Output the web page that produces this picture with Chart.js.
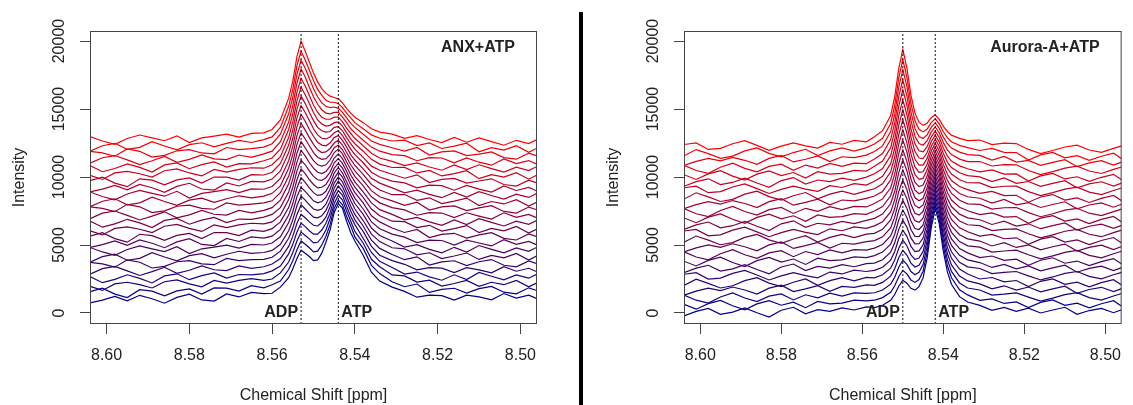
<!DOCTYPE html>
<html>
<head>
<meta charset="utf-8">
<title>ADP / ATP spectra</title>
<script src="https://cdn.jsdelivr.net/npm/chart.js@4.4.1/dist/chart.umd.min.js"></script>
<style>
  html, body { margin: 0; padding: 0; background: #fff; }
  #wrap { position: relative; width: 1133px; height: 405px; overflow: hidden; }
  #anx { position: absolute; left: 0; top: 0; }
  #aurora { position: absolute; left: 594px; top: 0; }
  #divider { position: absolute; left: 579px; top: 12px; width: 4px; height: 393px; background: #000; }
</style>
</head>
<body>
<div id="wrap">
  <canvas id="anx" width="570" height="405"></canvas>
  <div id="divider"></div>
  <canvas id="aurora" width="539" height="405"></canvas>
</div>
<script>
// Chemical shift grid (ppm) for each panel
const anxShift = [8.604, 8.601, 8.598, 8.595, 8.592, 8.589, 8.586, 8.583, 8.580, 8.577, 8.574, 8.571, 8.568, 8.565,
  8.562, 8.560, 8.558, 8.556, 8.555, 8.554, 8.553, 8.552, 8.551, 8.550, 8.549, 8.548, 8.547, 8.546, 8.545, 8.544,
  8.543, 8.542, 8.541, 8.540, 8.538, 8.536, 8.534, 8.531,
  8.528, 8.525, 8.522, 8.519, 8.516, 8.513, 8.510, 8.507, 8.504, 8.501, 8.498, 8.496];
const auroraShift = [8.604, 8.601, 8.598, 8.595, 8.592, 8.589, 8.586, 8.583, 8.580, 8.577, 8.574, 8.571, 8.568, 8.565, 8.562, 8.559,
  8.557, 8.555, 8.553, 8.552, 8.551, 8.550, 8.549, 8.548, 8.547, 8.546, 8.545, 8.544, 8.543, 8.542,
  8.541, 8.540, 8.539, 8.538, 8.536, 8.534,
  8.531, 8.528, 8.525, 8.522, 8.519, 8.516, 8.513, 8.510, 8.507, 8.504, 8.501, 8.498, 8.496];

// Intensities, one row per spectrum, first row = bottom (blue), last row = top (red)
const anxIntensity = [
  [750,950,1220,900,1300,1050,720,1150,1380,960,880,1400,1180,1520, 1420,1450,1900,2600,3250,4000,4620,4400,4150,3850,3900,4400,5200,6100,7400,8050,7700,6750,5900,5300,4250,3000,2350,1900, 1590,1160,1320,1280,950,1310,1190,970,1430,1090,1310,1050],
  [1570,1830,1390,1130,1710,1610,1260,1630,1770,1390,1840,1830,1610,2010, 1850,2080,2350,3200,3850,4650,5300,5050,4800,4500,4550,5000,5650,6500,7700,8300,7950,7100,6400,5600,4750,3500,2900,2300, 1930,2130,1510,1730,1820,1470,1790,1950,1530,1410,1850,1650],
  [1960,1660,2140,2260,2080,1840,2300,2440,2140,1920,2400,2200,2400,2520, 2400,2500,2950,3750,4450,5300,5950,5700,5450,5150,5200,5550,6100,6950,8050,8650,8300,7500,6750,6000,5150,3950,3400,2800, 2730,2270,2410,1980,2170,2390,1960,2260,2080,2400,1920,2220],
  [2680,2230,2470,2810,2550,2210,2730,2880,2450,2750,2950,2570,2830,2810, 2900,3100,3450,4350,5050,5950,6600,6350,6050,5800,5800,6100,6600,7350,8450,9000,8650,7850,7100,6500,5500,4450,3800,3350, 2860,3010,2660,2410,2810,2460,2980,2700,2440,2800,2560,2860],
  [2860,3260,3420,3100,2760,3040,3360,2920,3140,3460,3180,3120,3460,3280, 3400,3600,4000,4900,5650,6600,7250,7000,6700,6450,6400,6650,7050,7800,8800,9350,8950,8250,7500,6850,6000,4900,4250,3850, 3580,3170,3340,3300,2970,3330,3170,2950,3410,3070,3290,3030],
  [3730,3610,3370,3910,3730,3310,3430,3770,3850,3610,3550,4010,3850,3930, 3950,4100,4550,5500,6250,7250,7950,7650,7350,7050,7000,7150,7550,8200,9200,9700,9300,8600,7850,7250,6400,5350,4750,4300, 3920,4130,3530,3760,3840,3490,3770,3930,3510,3390,3830,3630],
  [3740,4140,4320,3880,4020,4440,4120,3840,4220,4360,4060,4320,4540,4380, 4450,4600,5050,6050,6850,7900,8600,8300,7950,7650,7550,7650,8000,8650,9550,10000,9650,8950,8250,7650,6800,5800,5250,4800, 4720,4280,4430,4000,4190,4410,3940,4240,4060,4380,3900,4200],
  [4820,4490,4240,4670,4930,4720,4510,4870,4370,4720,4850,4990,4770,5050, 5000,5150,5600,6650,7450,8550,9250,8950,8600,8250,8100,8200,8500,9100,9900,10350,10000,9300,8650,8050,7250,6250,5700,5300, 4850,5020,4680,4430,4830,4480,4960,4680,4420,4780,4540,4840],
  [4830,5030,5300,4980,5380,5130,4800,5230,5460,5040,4960,5480,5260,5600, 5500,5650,6150,7200,8050,9200,9950,9600,9200,8850,8650,8700,8950,9500,10300,10700,10300,9650,9000,8450,7650,6700,6200,5800, 5580,5180,5360,5330,4990,5350,5150,4930,5390,5050,5270,5010],
  [5650,5910,5470,5210,5790,5690,5340,5710,5850,5470,5920,5910,5690,6090, 6000,6200,6700,7750,8650,9800,10600,10250,9800,9450,9200,9250,9450,9950,10650,11000,10650,10050,9400,8850,8100,7150,6700,6250, 5920,6140,5550,5780,5860,5510,5750,5910,5490,5370,5810,5610],
  [6040,5740,6220,6340,6160,5920,6380,6520,6220,6000,6480,6280,6480,6600, 6550,6700,7200,8350,9250,10450,11250,10900,10450,10050,9800,9750,9950,10350,11050,11350,11000,10400,9750,9250,8500,7650,7150,6750, 6720,6280,6450,6030,6210,6430,5920,6220,6040,6360,5880,6180],
  [6760,6310,6550,6890,6630,6290,6810,6960,6530,6830,7030,6650,6910,6890, 7050,7250,7750,8900,9850,11100,11950,11550,11050,10650,10350,10250,10400,10800,11400,11700,11350,10750,10150,9650,8900,8100,7600,7250, 6850,7030,6700,6450,6850,6500,6940,6660,6400,6760,6520,6820],
  [6940,7340,7500,7180,6840,7120,7440,7000,7220,7540,7260,7200,7540,7360, 7550,7750,8300,9500,10450,11750,12600,12150,11650,11200,10900,10800,10900,11250,11800,12050,11700,11100,10550,10050,9350,8550,8100,7750, 7580,7190,7380,7350,7010,7370,7130,6910,7370,7030,7250,6990],
  [7810,7690,7450,7990,7810,7390,7510,7850,7930,7690,7630,8090,7930,8010, 8100,8250,8850,10050,11050,12400,13250,12800,12300,11800,11450,11300,11350,11650,12150,12350,12000,11450,10900,10450,9750,9000,8550,8250, 7920,8150,7570,7810,7880,7530,7730,7890,7470,7350,7790,7590],
  [7820,8220,8400,7960,8100,8520,8200,7920,8300,8440,8140,8400,8620,8460, 8600,8800,9350,10650,11650,13050,13950,13450,12900,12400,12000,11800,11850,12100,12500,12700,12350,11800,11300,10850,10200,9450,9050,8700, 8710,8290,8470,8050,8230,8450,7900,8200,8020,8340,7860,8160],
  [8900,8570,8320,8750,9010,8800,8590,8950,8450,8800,8930,9070,8850,9130, 9100,9300,9900,11200,12250,13700,14600,14100,13500,13000,12550,12350,12300,12500,12900,13050,12700,12200,11650,11250,10600,9900,9550,9200, 8840,9030,8720,8480,8870,8520,8920,8640,8380,8740,8500,8800],
  [8910,9110,9380,9060,9460,9210,8880,9310,9540,9120,9040,9560,9340,9680, 9650,9850,10450,11800,12850,14350,15250,14750,14150,13550,13100,12850,12800,12950,13250,13400,13050,12550,12050,11650,11050,10350,10000,9700, 9570,9200,9400,9370,9030,9390,9110,8890,9350,9010,9230,8970],
  [9730,9990,9550,9290,9870,9770,9420,9790,9930,9550,10000,9990,9770,10170, 10150,10350,11000,12350,13450,15000,15950,15400,14750,14150,13650,13400,13300,13350,13650,13700,13400,12900,12450,12050,11450,10800,10500,10200, 9910,10160,9590,9830,9900,9550,9710,9870,9450,9330,9770,9570],
  [10120,9820,10300,10420,10240,10000,10460,10600,10300,10080,10560,10360,10560,10680, 10650,10900,11500,12900,14050,15600,16600,16050,15400,14750,14200,13900,13750,13800,14000,14050,13750,13250,12800,12450,11900,11300,10950,10700, 10710,10300,10490,10080,10250,10470,9880,10180,10000,10320,9840,10140],
  [10840,10390,10630,10970,10710,10370,10890,11040,10610,10910,11110,10730,10990,10970, 11200,11400,12050,13500,14650,16250,17250,16700,16000,15300,14750,14400,14250,14250,14400,14400,14050,13600,13200,12850,12300,11750,11400,11150, 10840,11040,10740,10500,10890,10540,10900,10620,10360,10720,10480,10780],
  [11020,11420,11580,11260,10920,11200,11520,11080,11300,11620,11340,11280,11620,11440, 11700,11900,12600,14050,15250,16900,17950,17350,16600,15900,15350,14950,14700,14650,14750,14750,14400,14000,13550,13250,12700,12200,11900,11650, 11570,11200,11420,11400,11050,11410,11090,10870,11330,10990,11210,10950],
  [11890,11770,11530,12070,11890,11470,11590,11930,12010,11770,11710,12170,12010,12090, 12200,12450,13150,14650,15850,17550,18600,18000,17250,16500,15900,15450,15200,15100,15150,15050,14750,14350,13950,13650,13150,12650,12400,12150, 11910,12170,11610,11850,11920,11570,11690,11850,11430,11310,11750,11550],
  [11900,12300,12480,12040,12180,12600,12280,12000,12380,12520,12220,12480,12700,12540, 12750,12950,13650,15200,16450,18200,19250,18600,17850,17100,16450,16000,15650,15500,15500,15400,15100,14700,14350,14000,13550,13100,12850,12650, 12710,12310,12510,12100,12270,12490,11860,12160,11980,12300,11820,12120],
  [12980,12650,12400,12830,13090,12880,12670,13030,12530,12880,13010,13150,12930,13210, 13250,13500,14200,15800,17050,18850,20000,19250,18450,17650,17000,16500,16150,15950,15850,15750,15450,15050,14700,14400,14000,13550,13300,13150, 12840,13050,12760,12530,12910,12560,12880,12600,12340,12700,12460,12760]
];

const auroraIntensity = [
  [-220,120,330,-100,60,380,20,-300,200,420,-60,240,120,380,220,450, 390,570,930,1360,1970,2400,2190,1810,1680,1940,2580,4030,6240,7700,6560,4530,3020,2110,1200,810, 560,190,410,120, 360,0,220,420,-100,180,340,20,240],
  [630,280,690,930,530,230,670,910,570,790,390,850,670,730,950,890, 940,1130,1520,2000,2670,3140,2880,2430,2250,2460,3070,4460,6590,8000,6890,4930,3470,2590,1710,1330, 930,1030,700,820, 400,780,960,560,720,380,680,900,500],
  [1320,940,730,1180,1480,1100,840,1240,1400,960,1340,1120,1460,1240,1480,1440, 1490,1690,2120,2630,3360,3880,3570,3050,2810,2990,3560,4890,6940,8300,7230,5330,3920,3060,2210,1840, 1690,1320,1390,1480, 1170,870,1090,1350,1490,1130,950,1250,1430],
  [1310,1610,1830,1650,1910,1690,1390,1830,2050,1570,1770,2010,1590,1950,1890,2070, 2030,2250,2710,3260,4060,4610,4260,3670,3380,3510,4040,5320,7300,8600,7560,5730,4370,3540,2720,2360, 2140,1770,2000,1680, 1910,1550,1770,1970,1450,1730,1890,1570,1790],
  [2020,2480,2180,1840,2000,2380,2600,2200,1940,2260,2500,2040,2380,2600,2360,2620, 2580,2810,3300,3890,4760,5350,4950,4280,3950,4040,4530,5750,7650,8900,7900,6130,4820,4020,3230,2870, 2500,2610,2290,2390, 1950,2330,2510,2110,2270,1930,2230,2450,2050],
  [2850,2970,2490,2570,2910,3130,2790,2430,2730,2970,2750,2590,3010,2870,3150,3050, 3130,3360,3890,4520,5460,6090,5640,4900,4510,4570,5020,6190,8000,9200,8230,6530,5260,4500,3730,3390, 3270,2900,2980,3050, 2730,2430,2650,2910,3050,2690,2510,2810,2990],
  [2960,3300,3510,3080,3240,3560,3200,2880,3380,3600,3120,3420,3300,3560,3400,3630, 3670,3920,4480,5160,6150,6830,6330,5520,5080,5090,5510,6620,8360,9500,8560,6930,5710,4970,4240,3910, 3710,3350,3580,3250, 3460,3100,3320,3520,3000,3280,3440,3120,3340],
  [3810,3460,3870,4110,3710,3410,3850,4090,3750,3970,3570,4030,3850,3910,4130,4070, 4220,4480,5070,5790,6850,7570,7020,6140,5640,5620,6000,7050,8710,9790,8900,7330,6160,5450,4740,4420, 4080,4190,3870,3960, 3500,3880,4060,3660,3820,3480,3780,4000,3600],
  [4500,4120,3910,4360,4660,4280,4020,4420,4580,4140,4520,4300,4640,4420,4660,4620, 4770,5040,5660,6420,7550,8300,7710,6760,6210,6140,6480,7480,9060,10090,9230,7730,6610,5930,5250,4940, 4840,4480,4560,4620, 4280,3980,4200,4460,4600,4240,4060,4360,4540],
  [4490,4790,5010,4830,5090,4870,4570,5010,5230,4750,4950,5190,4770,5130,5070,5250, 5320,5600,6250,7050,8240,9040,8400,7370,6780,6670,6970,7910,9410,10390,9570,8130,7060,6400,5760,5450, 5290,4930,5170,4820, 5010,4650,4870,5070,4550,4830,4990,4670,4890],
  [5200,5660,5360,5020,5180,5560,5780,5380,5120,5440,5680,5220,5560,5780,5540,5800, 5860,6150,6840,7680,8940,9780,9080,7990,7340,7200,7460,8350,9770,10690,9900,8530,7510,6880,6260,5970, 5650,5780,5460,5530, 5050,5430,5610,5210,5370,5030,5330,5550,5150],
  [6030,6150,5670,5750,6090,6310,5970,5610,5910,6150,5930,5770,6190,6050,6330,6230, 6410,6710,7430,8320,9640,10520,9770,8610,7910,7720,7950,8780,10120,10990,10230,8930,7960,7360,6770,6490, 6420,6060,6150,6190, 5830,5530,5750,6010,6150,5790,5610,5910,6090],
  [6140,6480,6690,6260,6420,6740,6380,6060,6560,6780,6300,6600,6480,6740,6580,6810, 6960,7270,8030,8950,10330,11260,10460,9230,8470,8250,8440,9210,10470,11290,10570,9330,8410,7830,7270,7000, 6860,6510,6760,6390, 6560,6200,6420,6620,6100,6380,6540,6220,6440],
  [6990,6640,7050,7290,6890,6590,7030,7270,6930,7150,6750,7210,7030,7090,7310,7250, 7500,7830,8620,9580,11030,11990,11150,9850,9040,8770,8920,9640,10830,11590,10900,9730,8860,8310,7780,7520, 7230,7360,7050,7090, 6600,6980,7160,6760,6920,6580,6880,7100,6700],
  [7680,7300,7090,7540,7840,7460,7200,7600,7760,7320,7700,7480,7820,7600,7840,7800, 8050,8390,9210,10210,11730,12730,11840,10460,9610,9300,9410,10070,11180,11890,11240,10130,9310,8790,8290,8030, 7990,7640,7740,7760, 7380,7080,7300,7560,7700,7340,7160,7460,7640],
  [7670,7970,8190,8010,8270,8050,7750,8190,8410,7930,8130,8370,7950,8310,8250,8430, 8600,8940,9800,10840,12430,13470,12530,11080,10170,9830,9900,10510,11530,12190,11570,10530,9750,9270,8790,8550, 8440,8090,8350,7960, 8120,7760,7980,8180,7660,7940,8100,7780,8000],
  [8380,8840,8540,8200,8360,8740,8960,8560,8300,8620,8860,8400,8740,8960,8720,8980, 9140,9500,10390,11480,13120,14210,13220,11700,10740,10350,10390,10940,11890,12490,11900,10930,10200,9740,9300,9070, 8800,8940,8630,8660, 8150,8530,8710,8310,8470,8130,8430,8650,8250],
  [9210,9330,8850,8930,9270,9490,9150,8790,9090,9330,9110,8950,9370,9230,9510,9410, 9690,10060,10980,12110,13820,14950,13910,12320,11300,10880,10880,11370,12240,12780,12240,11330,10650,10220,9800,9580, 9570,9220,9320,9330, 8930,8630,8850,9110,9250,8890,8710,9010,9190],
  [9320,9660,9870,9440,9600,9920,9560,9240,9740,9960,9480,9780,9660,9920,9760,9990, 10240,10620,11570,12740,14520,15680,14600,12940,11870,11400,11360,11800,12590,13080,12570,11730,11100,10700,10310,10100, 10010,9670,9930,9530, 9670,9310,9530,9730,9210,9490,9650,9330,9550],
  [10170,9820,10230,10470,10070,9770,10210,10450,10110,10330,9930,10390,10210,10270,10490,10430, 10790,11180,12160,13370,15210,16420,15290,13550,12440,11930,11850,12230,12940,13380,12910,12130,11550,11170,10820,10610, 10380,10520,10220,10230, 9700,10080,10260,9860,10020,9680,9980,10200,9800],
  [10860,10480,10270,10720,11020,10640,10380,10780,10940,10500,10880,10660,11000,10780,11020,10980, 11330,11730,12750,14000,15910,17160,15970,14170,13000,12460,12340,12670,13300,13680,13240,12530,12000,11650,11320,11130, 11140,10810,10910,10900, 10480,10180,10400,10660,10800,10440,10260,10560,10740],
  [10850,11150,11370,11190,11450,11230,10930,11370,11590,11110,11310,11550,11130,11490,11430,11610, 11880,12290,13340,14640,16610,17900,16660,14790,13570,12980,12830,13100,13650,13980,13570,12930,12450,12130,11830,11650, 11590,11250,11520,11100, 11220,10860,11080,11280,10760,11040,11200,10880,11100],
  [11560,12020,11720,11380,11540,11920,12140,11740,11480,11800,12040,11580,11920,12140,11900,12160, 12430,12850,13940,15270,17300,18640,17350,15410,14130,13510,13320,13530,14000,14280,13910,13330,12900,12600,12330,12160, 11950,12100,11810,11800, 11250,11630,11810,11410,11570,11230,11530,11750,11350],
  [12390,12510,12030,12110,12450,12670,12330,11970,12270,12510,12290,12130,12550,12410,12690,12590, 12970,13410,14530,15900,18000,19370,18040,16030,14700,14030,13800,13960,14360,14580,14240,13730,13350,13080,12840,12680, 12720,12390,12500,12460, 12030,11730,11950,12210,12350,11990,11810,12110,12290]
];

const panelTitles = ['ANX+ATP', 'Aurora-A+ATP'];
const peakLabels = ['ADP', 'ATP'];
const anxPeaks = [8.553, 8.544];
const auroraPeaks = [8.550, 8.542];
const shiftTicks = [8.60, 8.58, 8.56, 8.54, 8.52, 8.50];
const intensityTicks = [0, 5000, 10000, 15000, 20000];
const shiftRange = [8.496, 8.604];
const intensityRange = [-810, 20740];
const xTitle = 'Chemical Shift [ppm]';
const yTitle = 'Intensity';

const FONT = '"Liberation Sans", Arial, Helvetica, sans-serif';
const INK = '#222';
const AXIS = '#444';

// blue -> red ramp, like colorRampPalette(c("darkblue", "red"))
function rampColor(i, n) {
    const t = n > 1 ? i / (n - 1) : 0;
    return `rgb(${Math.round(255 * t)}, 0, ${Math.round(139 * (1 - t))})`;
}

// Box, rotated y labels, axis titles and peak / panel labels
const panelDecor = {
    id: 'panelDecor',
    afterDraw(chart, args, opts) {
        const { ctx, chartArea: a, scales: { x, y } } = chart;
        ctx.save();
        ctx.strokeStyle = AXIS;
        ctx.lineWidth = 1;
        ctx.strokeRect(a.left + 0.5, a.top + 0.5, a.right - a.left - 1, a.bottom - a.top - 1);

        ctx.fillStyle = INK;
        ctx.textBaseline = 'middle';
        ctx.textAlign = 'center';
        ctx.font = `16px ${FONT}`;
        intensityTicks.forEach(v => {
            ctx.save();
            ctx.translate(a.left - 30, y.getPixelForValue(v));
            ctx.rotate(-Math.PI / 2);
            ctx.fillText(String(v), 0, 0);
            ctx.restore();
        });

        ctx.fillText(xTitle, (a.left + a.right) / 2, 396);
        ctx.save();
        ctx.translate(a.left - 70, (a.top + a.bottom) / 2);
        ctx.rotate(-Math.PI / 2);
        ctx.fillText(yTitle, 0, 0);
        ctx.restore();

        ctx.font = `bold 16px ${FONT}`;
        const y0 = y.getPixelForValue(0);
        ctx.textAlign = 'right';
        ctx.fillText(peakLabels[0], x.getPixelForValue(opts.peaks[0]) - 3, y0);
        ctx.textAlign = 'left';
        ctx.fillText(peakLabels[1], x.getPixelForValue(opts.peaks[1]) + 3, y0);
        ctx.textAlign = 'right';
        ctx.fillText(opts.title, a.right - 22, a.top + 17);
        ctx.restore();
    }
};

function spectraDatasets(shift, rows) {
    const n = rows.length;
    const sets = rows.map((row, i) => ({
        data: row.map((v, k) => ({ x: shift[k], y: v })),
        borderColor: rampColor(i, n),
        borderWidth: 1.2,
        pointRadius: 0,
        showLine: true,
        tension: 0,
        fill: false
    }));
    // Chart.js paints dataset 0 last, so put the red (top) spectrum first
    return sets.reverse();
}

function markerDatasets(peaks) {
    return peaks.map(p => ({
        data: [{ x: p, y: intensityRange[0] }, { x: p, y: intensityRange[1] }],
        borderColor: '#111',
        borderWidth: 1,
        borderDash: [2, 2],
        pointRadius: 0,
        showLine: true
    }));
}

function makePanel(id, shift, rows, peaks, title, rightPad) {
    return new Chart(document.getElementById(id), {
        type: 'scatter',
        data: { datasets: [...markerDatasets(peaks), ...spectraDatasets(shift, rows)] },
        options: {
            responsive: false,
            animation: false,
            devicePixelRatio: 1,
            events: [],
            layout: { padding: { top: 31, right: rightPad, bottom: 0, left: 0 } },
            plugins: {
                legend: { display: false },
                tooltip: { enabled: false },
                panelDecor: { title: title, peaks: peaks }
            },
            scales: {
                x: {
                    type: 'linear',
                    reverse: true,
                    min: shiftRange[0],
                    max: shiftRange[1],
                    afterBuildTicks: s => { s.ticks = shiftTicks.map(v => ({ value: v })); },
                    afterFit: s => { s.height = 81; },
                    border: { display: false },
                    grid: { drawOnChartArea: false, drawTicks: true, tickLength: 10, color: AXIS },
                    ticks: {
                        color: INK,
                        font: { family: FONT, size: 16 },
                        padding: 12,
                        maxRotation: 0,
                        autoSkip: false,
                        callback: v => Number(v).toFixed(2)
                    }
                },
                y: {
                    type: 'linear',
                    min: intensityRange[0],
                    max: intensityRange[1],
                    afterBuildTicks: s => { s.ticks = intensityTicks.map(v => ({ value: v })); },
                    afterFit: s => { s.width = 90; },
                    border: { display: false },
                    grid: { drawOnChartArea: false, drawTicks: true, tickLength: 10, color: AXIS },
                    ticks: { display: false }
                }
            }
        },
        plugins: [panelDecor]
    });
}

makePanel('anx', anxShift, anxIntensity, anxPeaks, panelTitles[0], 33);
makePanel('aurora', auroraShift, auroraIntensity, auroraPeaks, panelTitles[1], 0);
</script>
</body>
</html>
